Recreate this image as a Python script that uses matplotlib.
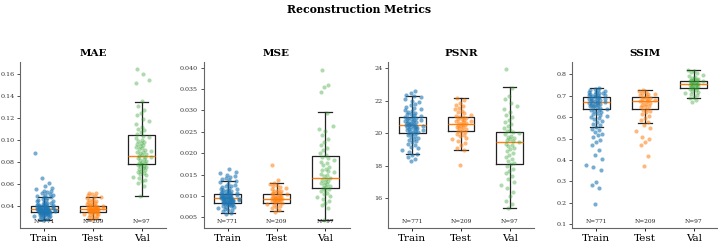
import numpy as np
import matplotlib
matplotlib.use("Agg")
import matplotlib.pyplot as plt

plt.rcParams['font.family'] = ['DejaVu Serif']

splits = ["Train", "Test", "Val"]
counts = [771, 209, 97]
metrics = ["MAE", "MSE", "PSNR", "SSIM"]
colors = ["#1f77b4", "#ff7f0e", "#2ca02c"]

# five-number box summaries: [whisker low, q1, median, q3, whisker high]
mae_train_box = [0.0272, 0.0343, 0.0370, 0.0403, 0.0485]
mae_test_box = [0.0280, 0.0349, 0.0370, 0.0403, 0.0480]
mae_val_box = [0.0490, 0.0780, 0.0853, 0.1047, 0.1350]
mse_train_box = [0.0060, 0.00835, 0.00952, 0.01052, 0.01342]
mse_test_box = [0.0064, 0.00843, 0.00935, 0.01038, 0.01296]
mse_val_box = [0.0044, 0.01186, 0.01413, 0.01927, 0.02957]
psnr_train_box = [18.71, 20.04, 20.51, 21.00, 22.31]
psnr_test_box = [18.95, 20.14, 20.60, 20.98, 22.19]
psnr_val_box = [15.38, 18.09, 19.45, 20.06, 22.83]
ssim_train_box = [0.5526, 0.638, 0.669, 0.694, 0.7346]
ssim_test_box = [0.574, 0.639, 0.674, 0.6926, 0.727]
ssim_val_box = [0.688, 0.7346, 0.756, 0.770, 0.8214]

# individual points
mae_train = [0.0271, 0.0279, 0.0286, 0.0293, 0.0298, 0.0302, 0.0307, 0.0311, 0.0313, 0.0317, 0.0320,
             0.0322, 0.0326, 0.0328, 0.0331, 0.0333, 0.0335, 0.0336, 0.0338, 0.0340, 0.0341, 0.0342,
             0.0344, 0.0345, 0.0347, 0.0348, 0.0349, 0.0351, 0.0352, 0.0353, 0.0355, 0.0356, 0.0357,
             0.0359, 0.0360, 0.0361, 0.0363, 0.0364, 0.0365, 0.0366, 0.0368, 0.0369, 0.0370, 0.0371,
             0.0372, 0.0374, 0.0375, 0.0377, 0.0378, 0.0380, 0.0381, 0.0383, 0.0385, 0.0386, 0.0388,
             0.0390, 0.0392, 0.0394, 0.0396, 0.0398, 0.0400, 0.0402, 0.0405, 0.0408, 0.0411, 0.0415,
             0.0418, 0.0422, 0.0427, 0.0431, 0.0436, 0.0441, 0.0446, 0.0452, 0.0458, 0.0465, 0.0472,
             0.0479, 0.0484, 0.0491, 0.0497, 0.0504, 0.0512, 0.0519, 0.0526, 0.0533, 0.0541, 0.0552,
             0.0563, 0.0578, 0.0612, 0.0658, 0.0882]
mae_test = [0.0282, 0.0291, 0.0299, 0.0306, 0.0312, 0.0318, 0.0323, 0.0328, 0.0333, 0.0337, 0.0341,
            0.0345, 0.0348, 0.0350, 0.0352, 0.0354, 0.0356, 0.0358, 0.0360, 0.0362, 0.0364, 0.0366,
            0.0368, 0.0370, 0.0372, 0.0374, 0.0376, 0.0378, 0.0381, 0.0383, 0.0386, 0.0389, 0.0392,
            0.0395, 0.0398, 0.0401, 0.0404, 0.0408, 0.0412, 0.0417, 0.0422, 0.0428, 0.0434, 0.0441,
            0.0449, 0.0456, 0.0463, 0.0471, 0.0478, 0.0489, 0.0497, 0.0506, 0.0514, 0.0521]
mae_val = [0.0492, 0.0585, 0.0612, 0.0628, 0.0641, 0.0655, 0.0668, 0.0679, 0.0690, 0.0702, 0.0711,
           0.0719, 0.0728, 0.0736, 0.0744, 0.0752, 0.0761, 0.0768, 0.0775, 0.0781, 0.0788, 0.0796,
           0.0803, 0.0811, 0.0819, 0.0826, 0.0834, 0.0842, 0.0849, 0.0856, 0.0863, 0.0871, 0.0879,
           0.0888, 0.0896, 0.0905, 0.0914, 0.0923, 0.0930, 0.0938, 0.0947, 0.0956, 0.0965, 0.0974,
           0.0983, 0.0994, 0.1003, 0.1015, 0.1027, 0.1041, 0.1056, 0.1072, 0.1089, 0.1105, 0.1122,
           0.1148, 0.1171, 0.1195, 0.1226, 0.1243, 0.1278, 0.1312, 0.1354, 0.1521, 0.1548, 0.1603,
           0.1648]
mse_train = [0.0058, 0.0061, 0.0064, 0.0066, 0.0068, 0.0070, 0.0072, 0.0073, 0.0075, 0.0076, 0.0077,
             0.0078, 0.0079, 0.0080, 0.0081, 0.0082, 0.0083, 0.00838, 0.00845, 0.00851, 0.00857,
             0.00862, 0.00868, 0.00873, 0.00879, 0.00884, 0.00889, 0.00894, 0.00899, 0.00905, 0.00911,
             0.00916, 0.00921, 0.00927, 0.00932, 0.00937, 0.00943, 0.00948, 0.00953, 0.00959, 0.00964,
             0.00969, 0.00975, 0.00981, 0.00986, 0.00992, 0.00998, 0.01004, 0.01011, 0.01018, 0.01026,
             0.01034, 0.01043, 0.01050, 0.01058, 0.01066, 0.01075, 0.01084, 0.01094, 0.01105, 0.01116,
             0.01128, 0.01141, 0.01155, 0.01170, 0.01186, 0.01203, 0.01221, 0.01242, 0.01265, 0.01290,
             0.01318, 0.01340, 0.01362, 0.01389, 0.01412, 0.01438, 0.01465, 0.01497, 0.01528, 0.01562,
             0.01631]
mse_test = [0.0063, 0.0067, 0.0071, 0.0074, 0.0077, 0.0079, 0.0081, 0.0083, 0.00848, 0.00861, 0.00873,
            0.00884, 0.00895, 0.00904, 0.00913, 0.00921, 0.00929, 0.00937, 0.00946, 0.00955, 0.00964,
            0.00974, 0.00985, 0.00996, 0.01008, 0.01021, 0.01034, 0.01047, 0.01061, 0.01076, 0.01092,
            0.01108, 0.01124, 0.01142, 0.01161, 0.01182, 0.01205, 0.01228, 0.01252, 0.01276, 0.01295,
            0.01384, 0.01721]
mse_val = [0.0044, 0.0072, 0.0078, 0.0083, 0.0088, 0.0093, 0.0097, 0.0101, 0.0105, 0.0108, 0.0111,
           0.0114, 0.0117, 0.0119, 0.0121, 0.0124, 0.0126, 0.0128, 0.0131, 0.0133, 0.0136, 0.0138,
           0.0140, 0.0143, 0.0146, 0.0149, 0.0152, 0.0155, 0.0158, 0.0161, 0.0164, 0.0168, 0.0172,
           0.0176, 0.0180, 0.0184, 0.0188, 0.0192, 0.0196, 0.0201, 0.0207, 0.0213, 0.0219, 0.0226,
           0.0234, 0.0242, 0.0251, 0.0257, 0.0263, 0.0295, 0.0343, 0.0355, 0.0360, 0.0395]
psnr_train = [18.28, 18.41, 18.55, 18.64, 18.72, 18.85, 18.97, 19.08, 19.18, 19.27, 19.36, 19.44, 19.52,
              19.59, 19.66, 19.72, 19.78, 19.84, 19.89, 19.94, 19.99, 20.03, 20.06, 20.09, 20.12, 20.15,
              20.18, 20.21, 20.24, 20.27, 20.30, 20.33, 20.36, 20.38, 20.41, 20.44, 20.46, 20.49, 20.52,
              20.54, 20.57, 20.60, 20.62, 20.65, 20.68, 20.71, 20.74, 20.77, 20.80, 20.83, 20.86, 20.89,
              20.92, 20.95, 20.98, 21.03, 21.07, 21.11, 21.16, 21.21, 21.26, 21.32, 21.38, 21.44, 21.51,
              21.58, 21.65, 21.73, 21.82, 21.91, 22.01, 22.12, 22.24, 22.30, 22.38, 22.47, 22.61]
psnr_test = [18.03, 18.96, 19.12, 19.28, 19.41, 19.53, 19.64, 19.74, 19.83, 19.91, 19.98, 20.05, 20.11,
             20.16, 20.21, 20.26, 20.31, 20.36, 20.41, 20.46, 20.50, 20.54, 20.58, 20.62, 20.66, 20.70,
             20.74, 20.78, 20.82, 20.86, 20.90, 20.94, 20.98, 21.03, 21.09, 21.15, 21.22, 21.30, 21.38,
             21.47, 21.56, 21.66, 21.77, 21.89, 22.02, 22.18]
psnr_val = [15.38, 15.62, 15.85, 16.12, 16.38, 16.61, 16.83, 17.02, 17.21, 17.38, 17.54, 17.69, 17.83,
            17.96, 18.08, 18.19, 18.31, 18.43, 18.55, 18.67, 18.79, 18.90, 19.01, 19.11, 19.20, 19.29,
            19.37, 19.44, 19.51, 19.58, 19.65, 19.72, 19.79, 19.86, 19.93, 20.00, 20.06, 20.14, 20.23,
            20.33, 20.44, 20.56, 20.69, 20.83, 20.98, 21.14, 21.31, 21.49, 21.68, 21.88, 22.09, 22.31,
            22.82, 23.94]
ssim_train = [0.193, 0.268, 0.281, 0.296, 0.352, 0.366, 0.378, 0.403, 0.421, 0.448, 0.469, 0.482, 0.494,
              0.508, 0.516, 0.522, 0.531, 0.538, 0.546, 0.553, 0.561, 0.569, 0.577, 0.584, 0.590, 0.596,
              0.601, 0.606, 0.611, 0.615, 0.619, 0.623, 0.627, 0.631, 0.635, 0.639, 0.642, 0.645, 0.648,
              0.650, 0.653, 0.655, 0.658, 0.660, 0.662, 0.664, 0.666, 0.668, 0.670, 0.672, 0.674, 0.676,
              0.678, 0.680, 0.682, 0.684, 0.686, 0.688, 0.690, 0.692, 0.695, 0.697, 0.699, 0.701, 0.703,
              0.705, 0.707, 0.709, 0.711, 0.713, 0.716, 0.719, 0.722, 0.725, 0.728, 0.731, 0.734]
ssim_test = [0.372, 0.418, 0.471, 0.482, 0.497, 0.508, 0.536, 0.549, 0.561, 0.575, 0.587, 0.598, 0.607,
             0.615, 0.622, 0.629, 0.635, 0.640, 0.645, 0.650, 0.654, 0.658, 0.662, 0.666, 0.670, 0.673,
             0.676, 0.679, 0.682, 0.685, 0.688, 0.691, 0.694, 0.698, 0.702, 0.706, 0.710, 0.714, 0.718,
             0.722, 0.727]
ssim_val = [0.672, 0.681, 0.689, 0.696, 0.703, 0.709, 0.714, 0.719, 0.723, 0.727, 0.731, 0.734, 0.737,
            0.740, 0.742, 0.745, 0.747, 0.749, 0.751, 0.753, 0.755, 0.757, 0.759, 0.761, 0.763, 0.765,
            0.767, 0.769, 0.771, 0.774, 0.777, 0.780, 0.784, 0.788, 0.793, 0.798, 0.804, 0.811, 0.816,
            0.821]

mae_ticks = [0.04, 0.06, 0.08, 0.10, 0.12, 0.14, 0.16]
mse_ticks = [0.005, 0.010, 0.015, 0.020, 0.025, 0.030, 0.035, 0.040]
psnr_ticks = [16, 18, 20, 22, 24]
ssim_ticks = [0.1, 0.2, 0.3, 0.4, 0.5, 0.6, 0.7, 0.8]
tick_labels = {
    "MAE": ["0.04", "0.06", "0.08", "0.10", "0.12", "0.14", "0.16"],
    "MSE": ["0.005", "0.010", "0.015", "0.020", "0.025", "0.030", "0.035", "0.040"],
    "PSNR": ["16", "18", "20", "22", "24"],
    "SSIM": ["0.1", "0.2", "0.3", "0.4", "0.5", "0.6", "0.7", "0.8"],
}

panels = {
    "MAE": ([mae_train_box, mae_test_box, mae_val_box], [mae_train, mae_test, mae_val], mae_ticks, (0.01995, 0.1712)),
    "MSE": ([mse_train_box, mse_test_box, mse_val_box], [mse_train, mse_test, mse_val], mse_ticks, (0.0025, 0.04133)),
    "PSNR": ([psnr_train_box, psnr_test_box, psnr_val_box], [psnr_train, psnr_test, psnr_val], psnr_ticks, (14.17, 24.39)),
    "SSIM": ([ssim_train_box, ssim_test_box, ssim_val_box], [ssim_train, ssim_test, ssim_val], ssim_ticks, (0.0827, 0.857)),
}

W, H = 718, 242
fig = plt.figure(figsize=(W / 100, H / 100), dpi=100)
lefts_px = [20, 203.5, 388, 572]
ax_w_px = 146
top_px, bot_px = 62, 228

alphas = [0.6, 0.55, 0.38]
widths = [0.24, 0.22, 0.2]

for k, (name, left_px) in enumerate(zip(metrics, lefts_px)):
    ax = fig.add_axes([left_px / W, (H - bot_px) / H, ax_w_px / W, (bot_px - top_px) / H])
    boxes, pts, yt, ylim = panels[name]
    stats = []
    for b, lab in zip(boxes, splits):
        stats.append(dict(whislo=b[0], q1=b[1], med=b[2], q3=b[3], whishi=b[4], label=lab, fliers=[]))
    ax.bxp(stats, positions=[1, 2, 3], widths=0.55, showfliers=False, patch_artist=False,
           boxprops=dict(color="#222222", linewidth=0.9),
           whiskerprops=dict(color="#222222", linewidth=0.9),
           capprops=dict(color="#222222", linewidth=0.9),
           medianprops=dict(color="#ff7f0e", linewidth=1.0))
    for j, vals in enumerate(pts):
        n = len(vals)
        i = np.arange(n)
        u1 = (i * 0.6180339887 + 0.31) % 1.0
        u2 = (i * 0.7548776662 + 0.57) % 1.0
        xoff = (u1 + u2 - 1.0) * widths[j]
        ax.scatter(j + 1 + xoff, vals, s=9, color=colors[j], alpha=alphas[j], linewidths=0, zorder=3)
        ax.text(j + 1, 0.04, f"N={counts[j]}", transform=ax.get_xaxis_transform(),
                ha="center", va="center", fontsize=4.2, color="#222222", zorder=4)
    ax.set_xlim(0.5, 3.5)
    ax.set_ylim(*ylim)
    ax.set_yticks(yt)
    ax.set_yticklabels(tick_labels[name])
    ax.set_xticks([1, 2, 3])
    ax.set_xticklabels(splits)
    ax.tick_params(axis="y", labelsize=4.6, length=2.5, width=0.6, pad=1.5, colors="#333333")
    ax.tick_params(axis="x", labelsize=7.5, length=2.5, width=0.6, pad=1.5)
    for s in ["top", "right"]:
        ax.spines[s].set_visible(False)
    for s in ["left", "bottom"]:
        ax.spines[s].set_color("#666666")
        ax.spines[s].set_linewidth(0.8)
    ax.set_title(name, fontsize=7.5, fontweight="bold", pad=4)

fig.suptitle("Reconstruction Metrics", fontsize=7.8, fontweight="bold", y=0.985, va="top")
fig.savefig("out.png", dpi=100)
